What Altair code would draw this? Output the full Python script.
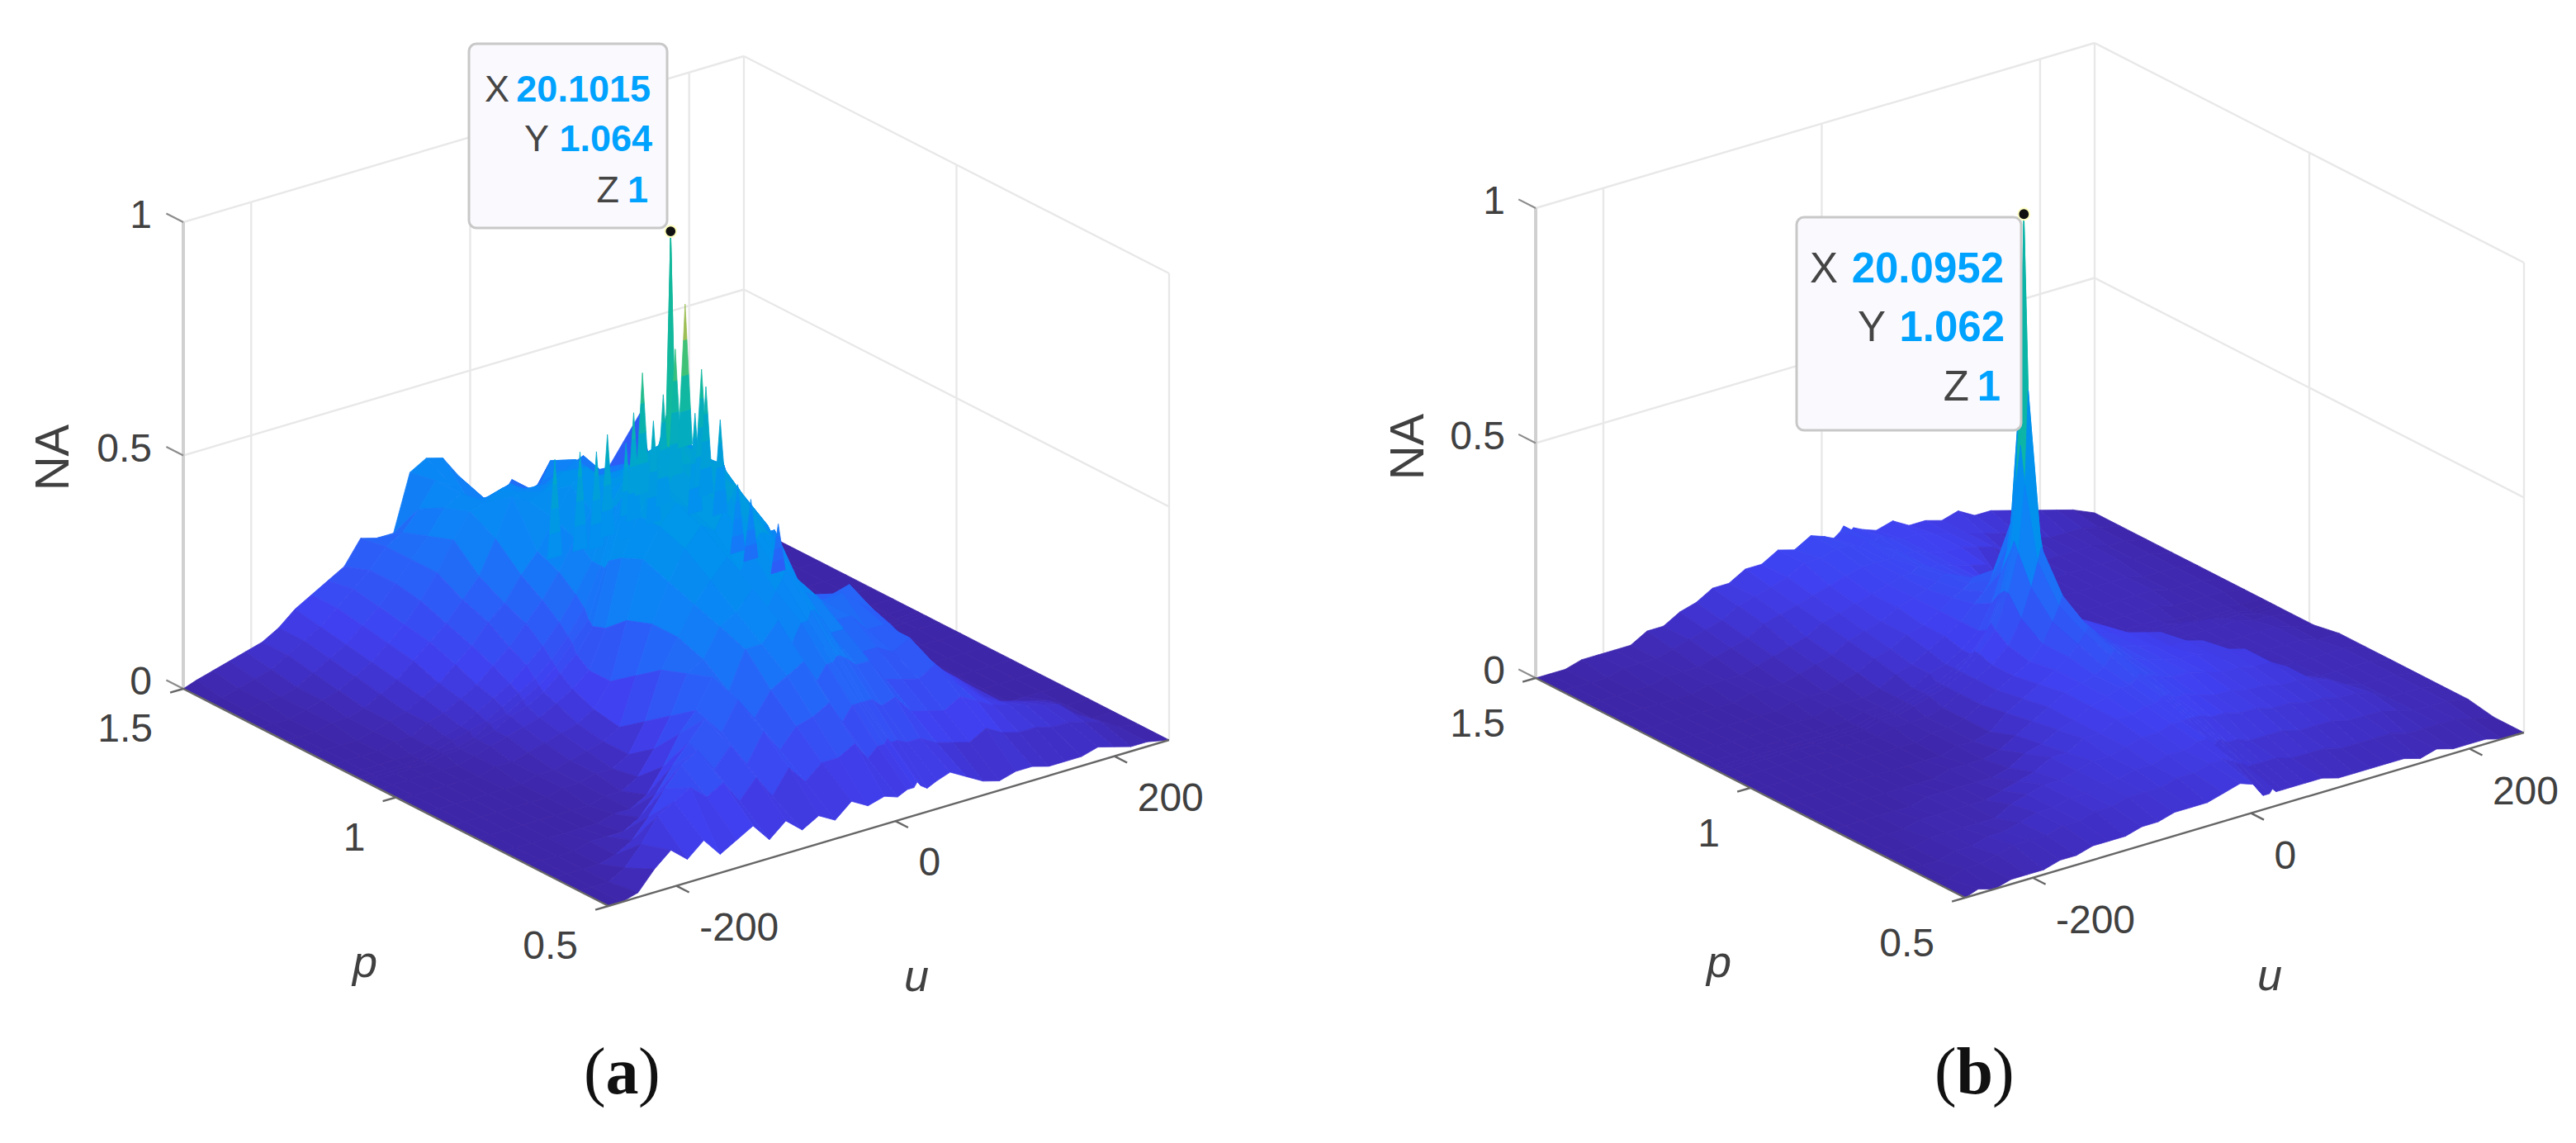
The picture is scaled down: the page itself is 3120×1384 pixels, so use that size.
import altair as alt
import pandas as pd

# ---- surface samples: NA in hundredths, one row per p, one column per u ----
U = [-262,-250,-235,-220,-205,-190,-175,-160,-145,-130,
     -115,-100,-85,-70,-55,-40,-25,-10,2,11,
     17,20,23,29,38,50,65,80,95,110,
     125,140,155,170,185,200,215,230,250]
P = [1.5,1.44,1.38,1.32,1.26,1.2,1.15,1.11,1.09,1.08,1.07,1.04,.99,.93,.87,.81,.75,.69,.63,.57,.5]

NA_A = [
 [0,1,2,3,4,5,7,10,12,14, 16,21,20,20,32,34,33,28,22,21, 20,20,21,21,24,17,20,22,24,18, 20,25,30,12,3,1,1,0,0],
 [0,0,1,2,3,5,7,9,12,15, 18,22,24,28,33,31,27,26,26,27, 27,26,26,25,24,30,25,29,25,21, 20,12,5,2,1,0,0,0,0],
 [0,0,1,1,2,4,6,8,11,14, 18,22,26,31,33,30,30,32,30,28, 28,27,28,31,31,33,27,26,29,24, 14,6,2,1,0,0,0,0,0],
 [0,0,0,1,2,3,5,7,10,13, 17,22,28,33,34,36,34,32,34,36, 35,34,33,33,32,32,30,33,30,20, 8,3,1,0,0,0,0,0,0],
 [0,0,0,1,1,2,4,6,9,12, 15,19,23,30,38,36,37,40,38,39, 37,36,37,36,34,37,36,38,32,26, 12,4,1,0,0,0,0,0,0],
 [0,0,0,0,1,2,3,5,7,10, 13,17,20,25,29,35,41,44,41,39, 38,40,41,41,43,43,46,44,38,28, 16,6,2,0,0,0,0,0,0],
 [0,0,0,0,1,1,3,4,6,8, 11,14,18,22,27,33,38,41,43,45, 46,46,46,46,45,47,44,41,40,28, 14,4,1,0,0,0,0,0,0],
 [0,0,0,0,0,1,2,3,5,7, 9,12,15,19,24,30,40,46,48,50, 50,50,50,52,50,46,42,38,30,20, 8,2,0,0,0,0,0,0,0],
 [0,0,0,0,0,1,2,3,4,6, 8,10,13,17,22,30,42,48,50,52, 52,58,52,52,50,44,40,34,26,18, 6,1,0,0,0,0,0,0,0],
 [0,0,0,0,0,1,1,2,4,5, 7,9,12,16,20,30,44,50,50,52, 52,98,54,52,50,44,40,32,24,16, 5,1,0,0,0,0,0,0,0],
 [0,0,0,0,0,1,1,2,3,5, 6,8,11,14,19,32,44,50,50,52, 52,60,54,52,50,46,38,34,28,22, 12,3,0,0,0,0,0,0,0],
 [0,0,0,0,0,0,1,2,3,4, 5,7,9,12,20,34,42,48,46,50, 50,50,50,50,50,48,40,30,24,20, 13,5,1,0,0,0,0,0,0],
 [0,0,0,0,0,0,1,1,2,3, 4,5,7,12,24,36,42,46,44,48, 50,50,50,50,48,44,34,34,22,18, 15,14,5,1,0,0,0,0,0],
 [0,0,0,0,0,0,0,1,1,2, 3,4,6,16,26,34,40,44,42,46, 48,50,50,47,40,40,32,25,20,21, 22,17,9,3,1,0,0,0,0],
 [0,0,0,0,0,0,0,1,1,2, 2,4,10,20,26,32,36,40,36,40, 42,43,43,42,38,32,26,24,25,22, 19,15,10,5,1,0,0,0,0],
 [0,0,0,0,0,0,0,0,1,1, 3,8,14,22,24,30,32,36,30,34, 36,38,38,36,32,30,24,24,20,20, 17,11,8,5,1,0,0,0,0],
 [0,0,0,0,0,0,0,1,1,3, 8,14,18,24,20,28,28,32,26,30, 30,32,32,30,26,26,20,20,18,20, 15,11,8,5,1,0,0,0,0],
 [0,0,0,0,1,1,1,3,7,12, 16,20,16,22,17,22,24,26,21,24, 24,25,25,24,22,22,17,16,15,17, 13,10,7,5,4,3,2,0,0],
 [0,0,0,0,1,3,7,12,16,18, 13,17,12,18,13,17,18,20,15,18, 18,18,18,18,16,17,13,12,11,13, 11,9,8,7,6,5,2,0,0],
 [0,0,0,2,6,11,13,15,12,14, 9,13,8,13,9,12,12,14,10,12, 12,13,12,12,11,11,9,8,7,9, 7,6,6,5,5,4,3,1,0],
 [0,0,1,5,8,5,8,4,6,8, 4,7,4,6,4,7,5,6,5,6, 6,7,6,5,6,7,5,3,2,3, 3,2,2,2,3,2,1,1,0],
]

NA_B = [
 [0,0,0,1,1,1,1,3,3,5, 6,8,8,10,10,12,11,13,12,11, 12,13,11,12,11,10,11,9,9,8, 9,7,7,6,5,4,3,2,0],
 [0,0,0,0,1,1,1,2,3,4, 5,7,8,9,10,12,12,13,13,12, 13,13,12,13,12,11,11,10,9,8, 7,6,5,3,2,2,2,1,0],
 [0,0,0,0,0,1,1,1,2,3, 4,6,7,8,9,10,11,12,12,12, 12,13,13,12,12,11,10,10,9,8, 5,3,2,2,2,2,1,1,0],
 [0,0,0,0,0,0,1,1,1,2, 3,4,5,7,8,9,10,11,12,12, 13,13,13,12,12,11,10,9,4,2, 2,2,2,2,2,2,1,1,0],
 [0,0,0,0,0,0,0,1,1,1, 2,3,4,6,7,8,10,11,12,13, 14,14,13,13,12,11,7,3,2,2, 2,2,2,2,2,1,1,1,0],
 [0,0,0,0,0,0,0,0,1,1, 1,2,3,5,6,8,9,11,13,14, 15,16,15,14,12,7,3,2,2,2, 2,2,2,2,2,1,1,1,0],
 [0,0,0,0,0,0,0,0,0,1, 1,1,2,4,5,7,9,11,14,16, 18,20,18,16,11,4,3,2,2,2, 2,2,2,2,1,1,1,1,0],
 [0,0,0,0,0,0,0,0,0,0, 1,1,2,3,5,6,8,11,16,22, 27,32,27,22,14,7,3,2,2,2, 2,2,2,1,1,1,1,0,0],
 [0,0,0,0,0,0,0,0,0,0, 1,1,2,3,4,6,8,12,19,27, 42,60,40,28,20,12,6,3,2,2, 2,2,2,1,1,1,1,0,0],
 [0,0,0,0,0,0,0,0,0,0, 1,1,2,3,4,6,9,14,20,30, 50,99,50,32,22,15,9,5,3,2, 2,2,2,2,1,1,1,0,0],
 [0,0,0,0,0,0,0,0,0,0, 1,1,2,3,4,6,9,13,20,28, 42,62,42,28,20,14,9,5,3,2, 2,2,2,2,2,1,1,0,0],
 [0,0,0,0,0,0,0,0,0,0, 1,1,1,2,4,6,8,11,16,22, 27,30,27,22,17,13,11,9,5,3, 2,2,2,2,2,2,1,1,0],
 [0,0,0,0,0,0,0,0,0,0, 0,1,1,2,4,6,8,10,13,17, 20,22,20,18,15,12,11,10,9,8, 3,2,2,2,2,2,2,1,0],
 [0,0,0,0,0,0,0,0,0,0, 0,1,1,2,5,7,9,11,13,15, 17,18,17,16,14,12,11,10,9,9, 8,3,2,2,2,2,2,1,1],
 [0,0,0,0,0,0,0,0,0,1, 1,1,2,4,6,8,10,11,12,13, 15,16,15,14,13,12,11,10,10,9, 9,8,3,2,2,2,2,2,1],
 [0,0,0,0,0,0,1,1,1,1, 1,2,4,5,7,8,10,11,12,12, 13,14,13,13,12,11,11,10,9,9, 8,8,6,3,2,2,2,2,1],
 [0,0,0,0,1,1,1,1,1,2, 3,4,6,6,8,8,10,10,11,11, 12,12,12,11,11,10,9,9,8,8, 7,7,6,5,3,2,2,2,1],
 [0,0,0,1,1,1,1,1,3,4, 5,5,6,7,7,8,9,9,10,10, 10,10,10,10,9,9,8,8,7,7, 6,6,5,5,4,2,2,2,1],
 [0,0,0,1,1,2,2,3,4,4, 5,5,6,6,7,7,8,8,9,9, 7,8,8,7,7,6,6,6,5,5, 5,4,4,4,3,2,2,2,1],
 [0,0,1,1,2,3,3,3,4,4, 5,5,6,6,6,7,7,8,8,7, 6,6,5,5,5,5,4,4,4,3, 3,3,3,2,2,2,2,1,0],
 [0,1,0,1,1,1,2,2,3,3, 3,4,4,5,5,5,6,7,6,3, 3,4,3,3,3,3,3,2,2,2, 2,2,1,2,1,1,1,0,0],
]

# narrow ridges of panel (a): u, NA tip
SPIKE_U = [-78,-55,-40,-30,-13,-6,2,12,21,32,41,50,56,60,73,89,101,126]
SPIKE_Z = [.55,.55,.54,.57,.54,.60,.68,.57,.62,.71,.80,.56,.65,.61,.53,.38,.34,.27]
SPIKE_P = 1.1

Z_TICKS = [0, 0.5, 1]
P_TICKS = [1.5, 1, 0.5]
U_TICKS = [-200, 0, 200]
TIP_A = [("X", "20.1015"), ("Y", "1.064"), ("Z", "1")]
TIP_B = [("X", "20.0952"), ("Y", "1.062"), ("Z", "1")]

# ---- camera of each box (screen position of three floor corners, height of z=1) ----
UMIN, UMAX = U[0], U[-1]
CAM_A = dict(F=(737, 1097), L=(222, 834), R=(1416, 896), Z=565)
CAM_B = dict(F=(2380, 1087), L=(1860, 821), R=(3057, 887), Z=569)

def proj(cam, u, p, z=0.0):
    a = (u - UMIN) / (UMAX - UMIN)
    q = p - 0.5
    F, L, R = cam["F"], cam["L"], cam["R"]
    return (F[0] + a * (R[0] - F[0]) + q * (L[0] - F[0]),
            F[1] + a * (R[1] - F[1]) + q * (L[1] - F[1]) - z * cam["Z"])

def poly(cam, corners, v):
    ring = [proj(cam, *c) for c in corners]
    ring = [[round(x, 1), round(y, 1)] for x, y in ring]
    ring.append(ring[0])
    return {"type": "Feature", "properties": {"v": round(v, 3)},
            "geometry": {"type": "Polygon", "coordinates": [ring]}}

def mesh(cam, table):
    out = []
    for j in range(len(P) - 1):
        for i in range(len(U) - 2, -1, -1):
            idx = [(j, i), (j, i + 1), (j + 1, i + 1), (j + 1, i)]
            corners = [(U[c], P[r], table[r][c] / 100) for r, c in idx]
            out.append(poly(cam, corners, sum(table[r][c] for r, c in idx) / 400))
    return out

def spikes(cam):
    out = []
    for u, z in zip(SPIKE_U, SPIKE_Z):
        base = z * 0.62
        step = (z - base) / 4
        for k in range(4):
            lo, hi = base + step * k, base + step * (k + 1)
            wl, wh = 6.5 * (4 - k) / 4, 6.5 * (3 - k) / 4
            corners = [(u - wl, SPIKE_P, lo), (u + wl, SPIKE_P, lo),
                       (u + wh, SPIKE_P, hi), (u - wh, SPIKE_P, hi)]
            out.append(poly(cam, corners, hi))
    return out

def seg(cam, a, b):
    (x, y), (x2, y2) = proj(cam, *a), proj(cam, *b)
    return dict(x=x, y=y, x2=x2, y2=y2)

def walls(cam):
    s = []
    for z in (0.5, 1):
        s.append(seg(cam, (UMIN, 1.5, z), (UMAX, 1.5, z)))
        s.append(seg(cam, (UMAX, 1.5, z), (UMAX, 0.5, z)))
    for u in U_TICKS + [UMAX]:
        s.append(seg(cam, (u, 1.5, 0), (u, 1.5, 1)))
    s.append(seg(cam, (UMAX, 1, 0), (UMAX, 1, 1)))
    s.append(seg(cam, (UMAX, 0.5, 0), (UMAX, 0.5, 1)))
    return s

def axes(cam):
    s = [seg(cam, (UMIN, 1.5, 0), (UMIN, 0.5, 0)), seg(cam, (UMIN, 0.5, 0), (UMAX, 0.5, 0))]
    for p in P_TICKS:
        s.append(seg(cam, (UMIN, p, 0), (UMIN - 12, p, 0)))
    for u in U_TICKS:
        s.append(seg(cam, (u, 0.5, 0), (u, 0.47, 0)))
    return s

def zaxis(cam):
    return [seg(cam, (UMIN, 1.5, 0), (UMIN, 1.5, 1))]

def zticks(cam):
    return [seg(cam, (UMIN, 1.5, z), (UMIN, 1.54, z)) for z in Z_TICKS]

def labels(cam, xz, pdy, udy):
    t = []
    for z in Z_TICKS:
        t.append(dict(text=str(z), x=xz, y=proj(cam, UMIN, 1.5, z)[1] - 7, align="right"))
    for p in P_TICKS:
        x, y = proj(cam, UMIN, p)
        t.append(dict(text=str(p), x=x - 37, y=y + pdy, align="right"))
    for u in U_TICKS:
        x, y = proj(cam, u, 0.5)
        t.append(dict(text=str(u), x=x + 28, y=y + udy, align="left"))
    return t

X = alt.X("x:Q", scale=alt.Scale(domain=[8, 3112], nice=False, zero=False), axis=None)
Y = alt.Y("y:Q", scale=alt.Scale(domain=[8, 1376], reverse=True, nice=False, zero=False), axis=None)

def rules(rows, color, width):
    return alt.Chart(pd.DataFrame(rows)).mark_rule(color=color, strokeWidth=width).encode(
        x=X, y=Y, x2="x2:Q", y2="y2:Q")

def text(rows, **kw):
    base = dict(font="Liberation Sans", fontSize=48, color="#404040", baseline="middle")
    base.update(kw)
    out = []
    for al in sorted({r.get("align", "center") for r in rows}):
        sub = [r for r in rows if r.get("align", "center") == al]
        b = dict(base); b["align"] = al
        out.append(alt.Chart(pd.DataFrame(sub)).mark_text(**b).encode(x=X, y=Y, text="text:N"))
    return out

def tip(box, lab_x, val_x, base_y, rows, size):
    r = alt.Chart(pd.DataFrame([dict(x=box[0], x2=box[1], y=box[2], y2=box[3])])).mark_rect(
        fill="#fafafe", stroke="#c8c8c8", strokeWidth=3, cornerRadius=9).encode(
        x=X, x2="x2:Q", y=Y, y2="y2:Q")
    lab = [dict(text=rows[i][0], x=lab_x[i], y=base_y[i], align="right") for i in range(3)]
    val = [dict(text=rows[i][1], x=val_x[i], y=base_y[i], align="right") for i in range(3)]
    return [r] + text(lab, fontSize=size, baseline="alphabetic", color="#454545") + \
        text(val, fontSize=size, baseline="alphabetic", fontWeight="bold", color="#00a2ff")

def dot(cam, table):
    x, y = proj(cam, 20, 1.08, table[P.index(1.08)][U.index(20)] / 100)
    return alt.Chart(pd.DataFrame([dict(x=x, y=y)])).mark_circle(
        size=190, color="#111111", opacity=1, stroke="#ffffc0", strokeWidth=2).encode(x=X, y=Y)

frame = {"type": "Feature", "properties": {},
         "geometry": {"type": "Polygon",
                      "coordinates": [[[8, 8], [3112, 8], [3112, 1376], [8, 1376], [8, 8]]]}}
bg = alt.Chart(alt.Data(values=[frame])).mark_geoshape(fill="white", stroke=None, strokeWidth=0).project(type="identity")

cdom = [0, .04, .1, .2, .3, .42, .55, .65, .75, .85, 1]
crng = ["#3e26a8", "#4030c8", "#4040f0", "#2a60f8", "#0c84f6", "#0094ec", "#00a8c8", "#10b8a0", "#50c468", "#e8b840", "#f0f040"]
scale = alt.Scale(domain=cdom, range=crng, interpolate="rgb", clamp=True)
feats = mesh(CAM_A, NA_A) + spikes(CAM_A) + mesh(CAM_B, NA_B)
surface = alt.Chart(alt.Data(values=feats)).mark_geoshape(strokeWidth=0.8).encode(
    fill=alt.Fill("properties.v:Q", scale=scale, legend=None),
    stroke=alt.Stroke("properties.v:Q", scale=scale, legend=None),
).project(type="identity")

layers = [bg,
          rules(walls(CAM_A) + walls(CAM_B), "#e8e8e8", 2.4),
          rules(zaxis(CAM_A) + zaxis(CAM_B), "#d0d0d0", 4),
          rules(zticks(CAM_A) + zticks(CAM_B), "#8c8c8c", 2.2),
          surface,
          rules(axes(CAM_A) + axes(CAM_B), "#666666", 2.4)]
layers += text(labels(CAM_A, 184, 50, 52) + labels(CAM_B, 1823, 57, 53))
layers += text([dict(text="NA", x=66, y=554), dict(text="NA", x=1707, y=541)], angle=270, fontSize=58)
layers += text([dict(text="p", x=442, y=1183), dict(text="p", x=2082, y=1183),
                dict(text="u", x=1110, y=1200), dict(text="u", x=2749, y=1199)],
               fontStyle="italic", baseline="alphabetic", fontSize=54)
layers += text([dict(text="(", x=707, y=1324, align="left"), dict(text=")", x=773, y=1324, align="left"),
                dict(text="(", x=2343, y=1324, align="left"), dict(text=")", x=2413, y=1324, align="left")],
               font="Liberation Serif", fontSize=80, baseline="alphabetic", color="#111111")
layers += text([dict(text="a", x=733.5, y=1324, align="left"), dict(text="b", x=2369.5, y=1324, align="left")],
               font="Liberation Serif", fontSize=80, baseline="alphabetic", fontWeight="bold", color="#111111")
layers += tip((568, 808, 53, 276), (617, 665, 750), (788, 790, 785), (123, 183, 245), TIP_A, 45)
layers += tip((2176, 2448, 263, 521), (2226, 2284, 2385), (2427, 2428, 2423), (342, 413, 485), TIP_B, 51)
layers += [dot(CAM_A, NA_A), dot(CAM_B, NA_B)]

chart = alt.layer(*layers).properties(
    width=3104, height=1368, padding=0, autosize=alt.AutoSizeParams(type="none"), background="white"
).configure_view(strokeWidth=0)

chart.save("out.html", embed_options={"renderer": "svg", "actions": False})
